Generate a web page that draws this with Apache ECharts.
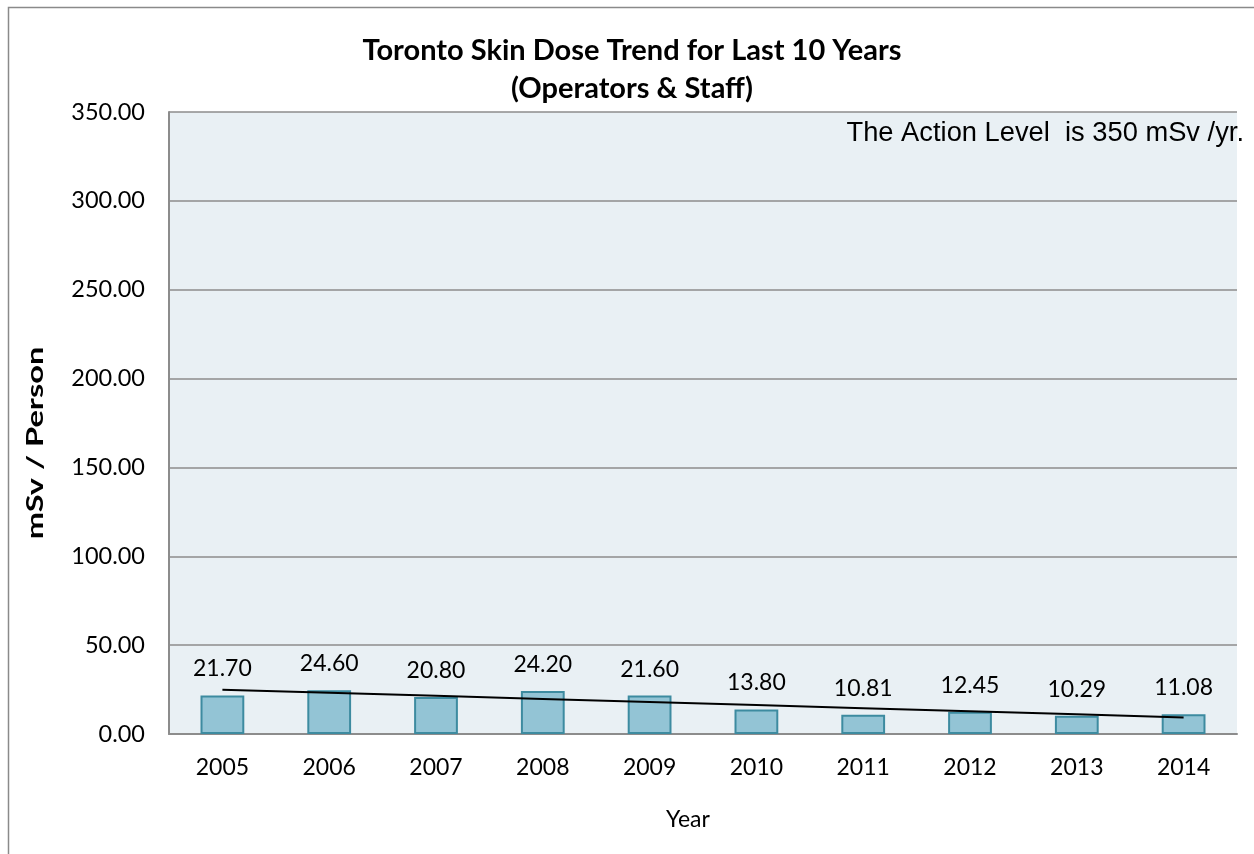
<!DOCTYPE html>
<html>
<head>
<meta charset="utf-8">
<script src="https://cdn.jsdelivr.net/npm/echarts@6/dist/echarts.min.js"></script>
<style>
  html, body { margin: 0; padding: 0; background: #ffffff; }
  #chart { width: 1254px; height: 854px; }
</style>
</head>
<body>
<div id="chart"></div>
<script>
// Annual skin dose per person, Toronto operators & staff
const years = ['2005', '2006', '2007', '2008', '2009', '2010', '2011', '2012', '2013', '2014'];
const doses = [21.70, 24.60, 20.80, 24.20, 21.60, 13.80, 10.81, 12.45, 10.29, 11.08];
const yTicks = [0, 50, 100, 150, 200, 250, 300, 350];

// Least-squares linear trend through the yearly doses
function linearTrend(values) {
  const n = values.length;
  let sx = 0, sy = 0, sxy = 0, sxx = 0;
  values.forEach((v, i) => { sx += i; sy += v; sxy += i * v; sxx += i * i; });
  const slope = (n * sxy - sx * sy) / (n * sxx - sx * sx);
  const intercept = (sy - slope * sx) / n;
  return values.map((_, i) => intercept + slope * i);
}
const trend = linearTrend(doses);

const FONT = 'Lato, "Open Sans", sans-serif';
const chart = echarts.init(document.getElementById('chart'), null, { renderer: 'canvas' });

chart.setOption({
  animation: false,
  backgroundColor: '#ffffff',
  title: {
    text: 'Toronto Skin Dose Trend for Last 10 Years\n(Operators & Staff)',
    left: 627,
    textAlign: 'center',
    top: 27,
    textStyle: { fontFamily: FONT, fontWeight: 'bold', fontSize: 29, lineHeight: 38, color: '#000' }
  },
  graphic: [
    {
      type: 'rect',
      z: -10,
      shape: { x: 8.5, y: 7.5, width: 1300, height: 900 },
      style: { fill: 'none', stroke: '#8a8a8a', lineWidth: 1.5 }
    },
    {
      type: 'text',
      right: 10,
      top: 120,
      style: { text: 'The Action Level  is 350 mSv /yr.', font: '27.3px "Liberation Sans", Arial, sans-serif', fill: '#000' }
    },
    {
      // vertical axis title, stretched along its length
      type: 'text',
      x: 36,
      y: 443,
      rotation: Math.PI / 2,
      scaleX: 1.48,
      style: {
        text: 'mSv / Person',
        font: 'bold 22px Lato, "Open Sans", sans-serif',
        fill: '#000',
        align: 'center',
        verticalAlign: 'middle'
      }
    }
  ],
  grid: {
    left: 169, right: 17, top: 112, bottom: 120,
    show: true, backgroundColor: '#e9f0f4', borderWidth: 0
  },
  xAxis: {
    type: 'category',
    data: years,
    name: 'Year',
    nameLocation: 'middle',
    nameGap: 74,
    nameTextStyle: { fontFamily: FONT, fontSize: 23, color: '#000', padding: [0, 30, 0, 0] },
    axisLine: { lineStyle: { color: '#8c8c8c', width: 2 } },
    axisTick: { show: false },
    axisLabel: { fontFamily: FONT, fontSize: 23, color: '#000', margin: 22 }
  },
  yAxis: {
    type: 'value',
    min: yTicks[0],
    max: yTicks[yTicks.length - 1],
    interval: 50,
    axisLine: { show: true, lineStyle: { color: '#8c8c8c', width: 2 } },
    axisTick: { show: false },
    axisLabel: {
      fontFamily: FONT, fontSize: 23.5, color: '#000', margin: 24,
      formatter: v => v.toFixed(2)
    },
    splitLine: { lineStyle: { color: '#8c8c8c', width: 1.5 } }
  },
  series: [
    {
      type: 'bar',
      data: doses,
      barWidth: '41%',
      itemStyle: { color: '#93c4d5', borderColor: '#3d8ba0', borderWidth: 2 },
      label: {
        show: true, position: 'top', distance: 15,
        fontFamily: FONT, fontSize: 23, color: '#000',
        formatter: p => p.value.toFixed(2)
      }
    },
    {
      type: 'line',
      data: trend,
      symbol: 'none',
      lineStyle: { color: '#000', width: 2 },
      z: 5
    }
  ]
});
</script>
</body>
</html>
